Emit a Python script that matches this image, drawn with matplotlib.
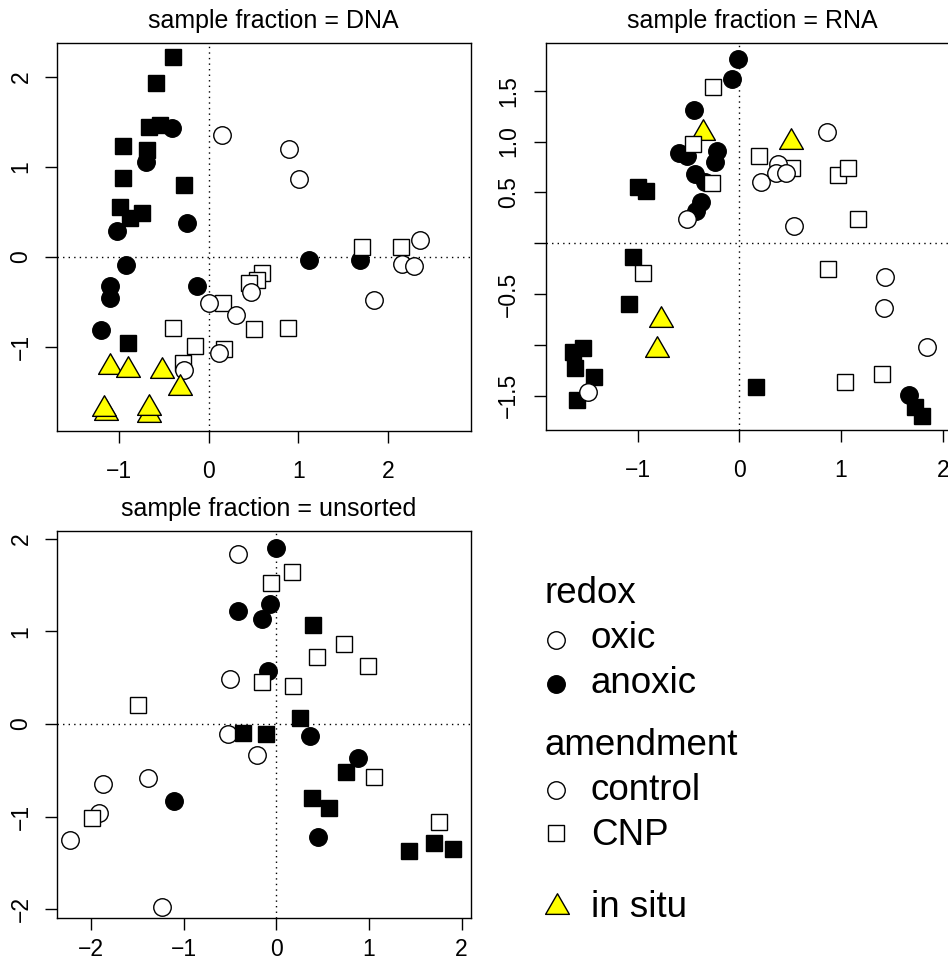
import numpy as np
import matplotlib
matplotlib.use('Agg')
import matplotlib.pyplot as plt
from matplotlib.path import Path

plt.rcParams['font.family'] = ['Liberation Sans', 'DejaVu Sans']
plt.rcParams['axes.unicode_minus'] = True

# ---------------- data ----------------
panel_titles = ['sample fraction = DNA', 'sample fraction = RNA', 'sample fraction = unsorted']

# DNA panel
dna_oxic_control_x = [0.152, 0.894, 1.006, 2.353, 2.149, 2.286, 1.841, 0.468, 0.007, 0.300, 0.118, -0.275]
dna_oxic_control_y = [1.352, 1.197, 0.863, 0.186, -0.085, -0.100, -0.481, -0.389, -0.511, -0.644, -1.067, -1.259]
dna_anoxic_control_x = [-0.412, -0.700, -0.238, -1.018, -0.924, -1.099, -1.099, -0.134, -1.199, 1.120, 1.685]
dna_anoxic_control_y = [1.433, 1.049, 0.374, 0.289, -0.092, -0.322, -0.455, -0.326, -0.815, -0.040, -0.040]
dna_oxic_cnp_x = [1.704, 2.141, 0.590, 0.534, 0.452, 0.163, -0.394, 0.508, 0.886, -0.153, 0.170, -0.290]
dna_oxic_cnp_y = [0.111, 0.104, -0.185, -0.259, -0.296, -0.518, -0.789, -0.803, -0.789, -0.989, -1.026, -1.185]
dna_anoxic_cnp_x = [-0.394, -0.590, -0.665, -0.542, -0.958, -0.690, -0.951, -0.272, -0.988, -0.746, -0.876, -0.902]
dna_anoxic_cnp_y = [2.222, 1.930, 1.444, 1.463, 1.233, 1.185, 0.878, 0.797, 0.556, 0.482, 0.427, -0.962]
dna_insitu_x = [-1.099, -0.895, -0.523, -0.320, -1.143, -1.166, -0.665, -0.665]
dna_insitu_y = [-1.222, -1.259, -1.267, -1.463, -1.740, -1.696, -1.759, -1.685]

# RNA panel
rna_oxic_control_x = [-0.517, 0.859, 0.210, 0.377, 0.361, 0.459, 0.538, 1.433, 1.423, 1.843, -1.491]
rna_oxic_control_y = [0.236, 1.097, 0.606, 0.777, 0.688, 0.688, 0.170, -0.328, -0.633, -1.017, -1.459]
rna_anoxic_control_x = [-0.010, -0.069, -0.442, -0.593, -0.511, -0.216, -0.239, -0.436, -0.337, -0.380, -0.429, 1.672]
rna_anoxic_control_y = [1.809, 1.616, 1.311, 0.885, 0.858, 0.911, 0.802, 0.681, 0.606, 0.409, 0.321, -1.492]
rna_oxic_cnp_x = [-0.256, -0.452, -0.265, 0.194, 0.521, 0.967, 1.072, 1.164, 0.869, -0.950, 1.039, 1.400]
rna_oxic_cnp_y = [1.534, 0.973, 0.590, 0.861, 0.743, 0.672, 0.737, 0.239, -0.256, -0.295, -1.367, -1.285]
rna_anoxic_cnp_x = [-0.993, -0.917, -1.042, -1.082, -1.632, -1.540, -1.616, -1.429, -1.599, 0.161, 1.727, 1.793]
rna_anoxic_cnp_y = [0.551, 0.517, -0.132, -0.600, -1.066, -1.027, -1.229, -1.312, -1.541, -1.410, -1.607, -1.698]
rna_insitu_x = [-0.360, 0.505, -0.770, -0.806]
rna_insitu_y = [1.082, 0.999, -0.754, -1.049]

# unsorted panel
uns_oxic_control_x = [-0.417, -0.500, -0.518, -0.205, -1.381, -1.867, -1.913, -2.226, -1.230]
uns_oxic_control_y = [1.833, 0.482, -0.111, -0.334, -0.579, -0.651, -0.963, -1.251, -1.977]
uns_anoxic_control_x = [0.000, -0.410, -0.068, -0.158, -0.093, 0.364, 0.885, -1.101, 0.453]
uns_anoxic_control_y = [1.901, 1.222, 1.290, 1.132, 0.571, -0.126, -0.363, -0.830, -1.215]
uns_oxic_cnp_x = [0.173, -0.057, 0.734, 0.436, 0.986, -0.151, 0.183, -1.489, 1.058, 1.759, -1.992]
uns_oxic_cnp_y = [1.636, 1.524, 0.859, 0.726, 0.629, 0.450, 0.413, 0.205, -0.568, -1.053, -1.017]
uns_anoxic_cnp_x = [0.399, 0.256, -0.356, -0.114, 0.749, 0.382, 0.572, 1.435, 1.705, 1.910]
uns_anoxic_cnp_y = [1.067, 0.068, -0.101, -0.111, -0.514, -0.801, -0.902, -1.369, -1.287, -1.348]
uns_insitu_x = []
uns_insitu_y = []

# axis ticks / labels
dna_xticks = [-1, 0, 1, 2]
dna_yticks = [-1, 0, 1, 2]
rna_xticks = [-1, 0, 1, 2]
rna_yticks = [-1.5, -1.0, -0.5, 0.0, 0.5, 1.0, 1.5]
rna_yticklabels = ['\u22121.5', '', '\u22120.5', '', '0.5', '1.0', '1.5']
uns_xticks = [-2, -1, 0, 1, 2]
uns_yticks = [-2, -1, 0, 1, 2]

legend_redox = ['oxic', 'anoxic']
legend_amend = ['control', 'CNP']
legend_insitu = 'in situ'

# ---------------- styling ----------------
W, H = 948, 966
fig = plt.figure(figsize=(W / 100, H / 100), dpi=100)

def rect(l, t, r, b):
    return [l / W, 1 - b / H, (r - l) / W, (b - t) / H]

tri_path = Path([(0, 1), (-0.866, -0.5), (0.866, -0.5), (0, 1)],
                [Path.MOVETO, Path.LINETO, Path.LINETO, Path.CLOSEPOLY])

MS_C, MS_S, MS_T, MEW = 12.6, 11.4, 19.8, 1.0
styles = {
    'oxic_control': dict(marker='o', ms=MS_C, mfc='white', mec='black'),
    'anoxic_control': dict(marker='o', ms=MS_C, mfc='black', mec='black'),
    'oxic_cnp': dict(marker='s', ms=MS_S, mfc='white', mec='black'),
    'anoxic_cnp': dict(marker='s', ms=MS_S, mfc='black', mec='black'),
    'insitu': dict(marker=tri_path, ms=MS_T, mfc='#FFFF00', mec='black'),
}

TICK_FS = 16.5

def setup(ax, xlim, ylim, xticks, yticks, title, xpad, ypad, title_dx, yticklabels=None):
    ax.set_xlim(*xlim)
    ax.set_ylim(*ylim)
    ax.set_xticks(xticks)
    ax.set_yticks(yticks)
    if yticklabels is not None:
        ax.set_yticklabels(yticklabels)
    ax.tick_params(axis='both', direction='out', length=8.8, width=1.0,
                   labelsize=TICK_FS, color='black')
    ax.tick_params(axis='x', pad=xpad)
    ax.tick_params(axis='y', pad=ypad, labelrotation=90)
    for lab in ax.get_yticklabels():
        lab.set_va('center')
    for s in ax.spines.values():
        s.set_linewidth(1.0)
    ax.axhline(0, color='black', lw=1.0, linestyle=(0, (1, 3)), zorder=1)
    ax.axvline(0, color='black', lw=1.0, linestyle=(0, (1, 3)), zorder=1)
    t = ax.set_title(title, fontsize=18, pad=10.5)
    bb = ax.get_position()
    t.set_x(0.5 + title_dx / (bb.width * W))

def draw(ax, groups, order):
    z = 2
    for key in order:
        x, y = groups[key]
        if len(x):
            ax.plot(x, y, linestyle='none', mew=MEW, zorder=z, **styles[key])
        z += 1

ax1 = fig.add_axes(rect(57.3, 42.7, 470.7, 430.7))
setup(ax1, (-1.686, 2.918), (-1.933, 2.378), dna_xticks, dna_yticks, panel_titles[0],
      xpad=12.0, ypad=9.0, title_dx=9)
draw(ax1, {
    'oxic_control': (dna_oxic_control_x, dna_oxic_control_y),
    'anoxic_control': (dna_anoxic_control_x, dna_anoxic_control_y),
    'oxic_cnp': (dna_oxic_cnp_x, dna_oxic_cnp_y),
    'anoxic_cnp': (dna_anoxic_cnp_x, dna_anoxic_cnp_y),
    'insitu': (dna_insitu_x, dna_insitu_y),
}, ['anoxic_control', 'anoxic_cnp', 'oxic_cnp', 'oxic_control', 'insitu'])

ax2 = fig.add_axes(rect(545.7, 42.7, 959.1, 430.0))
setup(ax2, (-1.904, 2.161), (-1.836, 1.972), rna_xticks, rna_yticks, panel_titles[1],
      xpad=12.0, ypad=9.5, title_dx=0, yticklabels=rna_yticklabels)
draw(ax2, {
    'oxic_control': (rna_oxic_control_x, rna_oxic_control_y),
    'anoxic_control': (rna_anoxic_control_x, rna_anoxic_control_y),
    'oxic_cnp': (rna_oxic_cnp_x, rna_oxic_cnp_y),
    'anoxic_cnp': (rna_anoxic_cnp_x, rna_anoxic_cnp_y),
    'insitu': (rna_insitu_x, rna_insitu_y),
}, ['anoxic_cnp', 'anoxic_control', 'insitu', 'oxic_cnp', 'oxic_control'])

ax3 = fig.add_axes(rect(57.3, 531.0, 470.7, 918.3))
setup(ax3, (-2.363, 2.098), (-2.095, 2.081), uns_xticks, uns_yticks, panel_titles[2],
      xpad=5.6, ypad=9.0, title_dx=5)
draw(ax3, {
    'oxic_control': (uns_oxic_control_x, uns_oxic_control_y),
    'anoxic_control': (uns_anoxic_control_x, uns_anoxic_control_y),
    'oxic_cnp': (uns_oxic_cnp_x, uns_oxic_cnp_y),
    'anoxic_cnp': (uns_anoxic_cnp_x, uns_anoxic_cnp_y),
    'insitu': (uns_insitu_x, uns_insitu_y),
}, ['anoxic_control', 'oxic_control', 'oxic_cnp', 'anoxic_cnp', 'insitu'])

# ---------------- legend (pixel coordinates overlay) ----------------
lax = fig.add_axes([0, 0, 1, 1], zorder=-1)
lax.set_xlim(0, W)
lax.set_ylim(H, 0)
lax.axis('off')

LFS = 26.5
mx, tx, hx = 556, 591, 545
lax.text(hx, 603.3, 'redox', fontsize=LFS, va='baseline', ha='left')
lax.plot([mx], [640], linestyle='none', mew=MEW, **styles['oxic_control'])
lax.text(tx, 648.3, legend_redox[0], fontsize=LFS, va='baseline', ha='left')
lax.plot([mx], [684], linestyle='none', mew=MEW, **styles['anoxic_control'])
lax.text(tx, 693.3, legend_redox[1], fontsize=LFS, va='baseline', ha='left')
lax.text(hx, 755, 'amendment', fontsize=LFS, va='baseline', ha='left')
lax.plot([mx], [790], linestyle='none', mew=MEW, **styles['oxic_control'])
lax.text(tx, 800, legend_amend[0], fontsize=LFS, va='baseline', ha='left')
lax.plot([mx], [833], linestyle='none', mew=MEW, **styles['oxic_cnp'])
lax.text(tx, 845, legend_amend[1], fontsize=LFS, va='baseline', ha='left')
lax.plot([mx + 1], [907], linestyle='none', mew=MEW, **styles['insitu'])
lax.text(tx, 916.7, legend_insitu, fontsize=LFS, va='baseline', ha='left')

fig.savefig('out.png', dpi=100)
